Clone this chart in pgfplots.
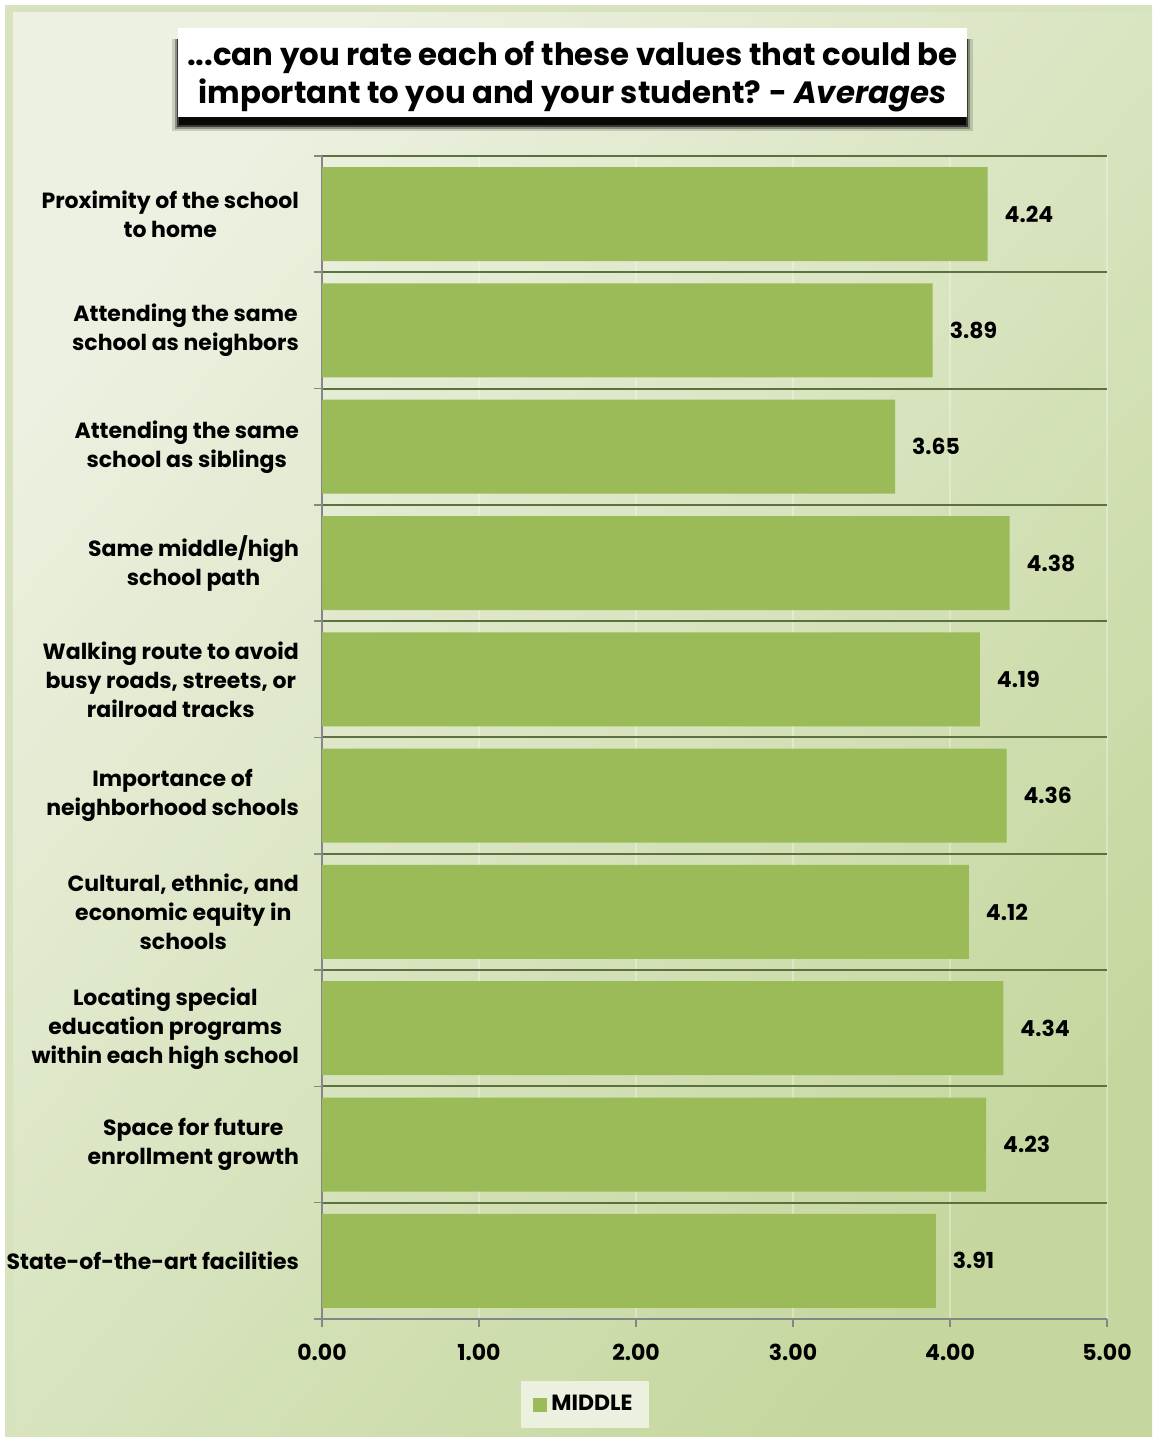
\documentclass[border=0pt]{standalone}
\usepackage{pgfplots}
\pgfplotsset{compat=1.18}
\usepackage{fontspec}
\setmainfont{Poppins}
\newfontfamily\titlefont{Poppins}
\definecolor{barg}{HTML}{9BBB59}
\definecolor{sep}{HTML}{5D7040}
\definecolor{axg}{HTML}{868686}
\definecolor{frame}{HTML}{D7E3BE}
\definecolor{bgA}{HTML}{ECF1E1}
\definecolor{bgB}{HTML}{C5D79E}
\definecolor{legbg}{HTML}{EBF0DF}
\pgfplotstableread{
y v
9 4.24
8 3.89
7 3.65
6 4.38
5 4.19
4 4.36
3 4.12
2 4.34
1 4.23
0 3.91
}\datatable
\begin{document}
\begin{tikzpicture}
\useasboundingbox (0,0) rectangle (578pt,719.5pt);
\fill[white] (0,0) rectangle (578pt,719.5pt);
\fill[frame] (2.5pt,1pt) rectangle (576pt,717pt);
\shade[left color=bgA, right color=bgB, shading angle=50] (6.5pt,1pt) rectangle (576pt,713pt);
% title box with soft shadow
\fill[black, opacity=0.15] (86pt,654pt) rectangle (486.5pt,700pt);
\fill[black, opacity=0.3] (87.5pt,655pt) rectangle (485pt,700pt);
\fill[black, opacity=0.6] (88.5pt,656pt) rectangle (484pt,700pt);
\fill[black, opacity=0.85] (89.5pt,657pt) rectangle (483pt,700pt);
\fill[white] (89pt,661pt) rectangle (483.5pt,705.5pt);
\node[align=center, inner sep=0pt, font=\titlefont\bfseries\fontsize{15.4}{19}\selectfont]
  at (286.25pt,681pt) {...can you rate each of these values that could be\\important to you and your student? - \textit{Averages}};
\begin{axis}[
  at={(161pt,60pt)}, anchor=south west,
  scale only axis, width=392.5pt, height=581.5pt,
  xbar, bar width=47pt,
  xmin=0, xmax=5, ymin=-0.5, ymax=9.5,
  axis x line*=bottom, axis y line*=left,
  axis line style={axg, line width=0.8pt},
  /pgf/number format/fixed, /pgf/number format/fixed zerofill,
  /pgf/number format/precision=2, /pgf/number format/assume math mode=true,
  xtick={0,1,2,3,4,5},
  xticklabel style={font=\bfseries\fontsize{11}{13}\selectfont, yshift=-5pt},
  major tick length=4pt,
  tick align=outside,
  tick style={axg, line width=0.8pt},
  xmajorgrids, major x grid style={white, opacity=0.3, line width=0.6pt},
  ytick={0,...,9},
  y tick style={draw=none},
  minor ytick={-0.5,0.5,...,9.5},
  minor y tick style={draw=axg, line width=0.8pt},
  minor tick length=4pt,
  yminorgrids, minor y grid style={sep, line width=1pt},
  yticklabels={State-of-the-art facilities,
    {Space for future\\enrollment growth},
    {Locating special\\education programs\\within each high school},
    {Cultural, ethnic, and\\economic equity in\\schools},
    {Importance of\\neighborhood schools},
    {Walking route to avoid\\busy roads, streets, or\\railroad tracks},
    {Same middle/high\\school path},
    {Attending the same\\school as siblings},
    {Attending the same\\school as neighbors},
    {Proximity of the school\\to home}},
  yticklabel style={align=center, font=\bfseries\fontsize{11}{14.5}\selectfont, xshift=-4pt},
  nodes near coords,
  nodes near coords style={font=\bfseries\fontsize{11}{13}\selectfont, xshift=5pt},
  legend style={at={(rel axis cs:0.335,0)}, anchor=north, yshift=-31pt,
     fill=legbg, draw=none, font=\bfseries\fontsize{11}{13}\selectfont,
     inner xsep=6pt, inner ysep=5pt},
  legend image code/.code={\fill[barg] (0pt,-3.5pt) rectangle (7pt,3.5pt);},
]
\addplot[fill=barg, draw=none] table[x=v, y=y] {\datatable};
\legend{MIDDLE}
\end{axis}
\end{tikzpicture}
\end{document}
